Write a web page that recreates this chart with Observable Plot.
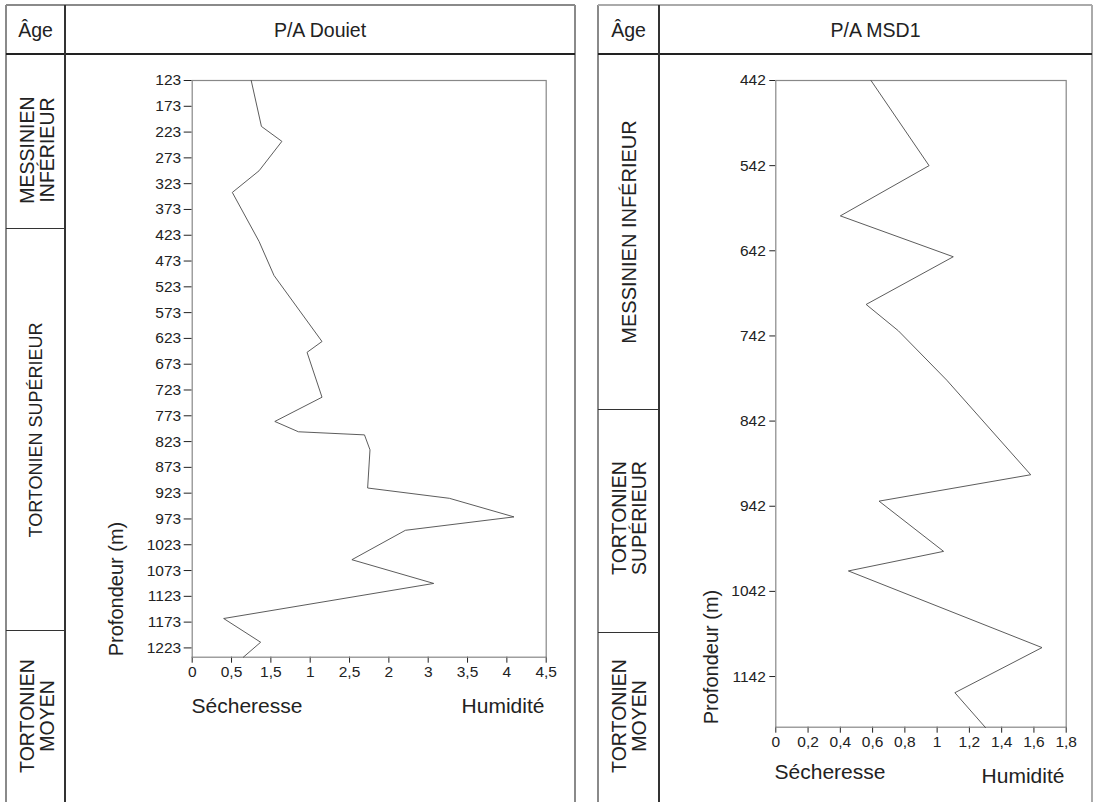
<!DOCTYPE html>
<html>
<head>
<meta charset="utf-8">
<script src="https://cdn.jsdelivr.net/npm/d3@7"></script>
<script src="https://cdn.jsdelivr.net/npm/@observablehq/plot@0.6"></script>
<style>
  body { margin: 0; background: #fff; }
  #root { position: relative; width: 1094px; height: 802px; overflow: hidden; background: #fff;
          font-family: "Liberation Sans", Arial, Helvetica, sans-serif; color: #222; }
  #root svg text { font-size: 15.5px !important; font-family: "Liberation Sans", Arial, sans-serif !important; fill: #222; }
  .ln { position: absolute; }
  .tx { position: absolute; white-space: nowrap; line-height: 1.05; text-align: center; }
</style>
</head>
<body>
<div id="root"></div>
<script>
// ---------- data ----------
const douietDepth = [123, 212, 241, 298, 340, 435, 501, 629, 650, 737, 784, 804, 810, 839, 913, 933, 969, 995, 1052, 1098, 1166, 1212, 1241];
const douietValue = [0.75, 0.88, 1.14, 0.85, 0.51, 0.85, 1.04, 1.65, 1.46, 1.65, 1.05, 1.35, 2.19, 2.26, 2.23, 3.27, 4.09, 2.71, 2.03, 3.07, 0.40, 0.87, 0.65];
const douietDepthTicks = [123, 173, 223, 273, 323, 373, 423, 473, 523, 573, 623, 673, 723, 773, 823, 873, 923, 973, 1023, 1073, 1123, 1173, 1223];
const douietValueTicks = [0, 0.5, 1, 1.5, 2, 2.5, 3, 3.5, 4, 4.5];
const douietValueLabels = ["0", "0,5", "1,5", "1", "2,5", "2", "3", "3,5", "4", "4,5"];
const douietAges = ["MESSINIEN\nINFÉRIEUR", "TORTONIEN SUPÉRIEUR", "TORTONIEN\nMOYEN"];

const msd1Depth = [442, 542, 601, 649, 705, 736, 794, 905, 936, 995, 1018, 1108, 1161, 1202];
const msd1Value = [0.59, 0.95, 0.40, 1.10, 0.56, 0.76, 1.06, 1.58, 0.64, 1.04, 0.45, 1.65, 1.11, 1.30];
const msd1DepthTicks = [442, 542, 642, 742, 842, 942, 1042, 1142];
const msd1ValueTicks = [0, 0.2, 0.4, 0.6, 0.8, 1, 1.2, 1.4, 1.6, 1.8];
const msd1ValueLabels = ["0", "0,2", "0,4", "0,6", "0,8", "1", "1,2", "1,4", "1,6", "1,8"];
const msd1Ages = ["MESSINIEN INFÉRIEUR", "TORTONIEN\nSUPÉRIEUR", "TORTONIEN\nMOYEN"];

const titles = ["P/A Douiet", "P/A MSD1"];
const ageHeader = "Âge";
const depthLabel = "Profondeur (m)";
const dryLabel = "Sécheresse";
const wetLabel = "Humidité";

// ---------- helpers ----------
const root = document.getElementById("root");
function hline(x1, x2, y, color, w) {
  const d = document.createElement("div");
  d.className = "ln";
  Object.assign(d.style, {left: x1 + "px", top: (y - w / 2) + "px", width: (x2 - x1) + "px", height: w + "px", background: color});
  root.appendChild(d);
}
function vline(x, y1, y2, color, w) {
  const d = document.createElement("div");
  d.className = "ln";
  Object.assign(d.style, {left: (x - w / 2) + "px", top: y1 + "px", width: w + "px", height: (y2 - y1) + "px", background: color});
  root.appendChild(d);
}
function text(str, cx, cy, size, rot) {
  const d = document.createElement("div");
  d.className = "tx";
  d.innerHTML = str.split("\n").join("<br>");
  Object.assign(d.style, {left: cx + "px", top: cy + "px", fontSize: size + "px",
    transform: "translate(-50%,-50%)" + (rot ? " rotate(-90deg)" : "")});
  root.appendChild(d);
}
function place(svg, left, top) {
  svg.style.position = "absolute";
  svg.style.left = left + "px";
  svg.style.top = top + "px";
  root.appendChild(svg);
}

// ---------- frames ----------
vline(6, 5, 802, "#8a8a8a", 1.3);
vline(575, 5, 802, "#8a8a8a", 1.3);
hline(6, 575, 5, "#8a8a8a", 1.3);
hline(6, 575, 54, "#222", 1.2);
vline(65, 5, 802, "#333", 1.2);
hline(6, 65, 228, "#333", 1);
hline(6, 65, 630, "#333", 1);
vline(598, 5, 802, "#8a8a8a", 1.3);
vline(1092, 5, 802, "#aaa", 2.2);
hline(598, 1092, 5, "#aaa", 1.5);
hline(598, 1092, 54, "#222", 1.2);
vline(659, 5, 802, "#333", 1.2);
hline(598, 659, 409, "#333", 1);
hline(598, 659, 632, "#333", 1);

// ---------- header texts ----------
text(ageHeader, 35.5, 30, 19.5);
text(titles[0], 320, 30, 19.5);
text(ageHeader, 628.5, 30, 19.5);
text(titles[1], 875.5, 30, 19.5);

text(douietAges[0], 37, 150, 19.5, true);
text(douietAges[1], 36, 430, 18, true);
text(douietAges[2], 37, 716, 19.5, true);
text(msd1Ages[0], 628.5, 232, 20, true);
text(msd1Ages[1], 629, 518, 19.5, true);
text(msd1Ages[2], 629, 716, 19.5, true);

text(depthLabel, 116, 589, 20, true);
text(depthLabel, 711, 657, 20, true);
text(dryLabel, 247, 706, 21);
text(wetLabel, 503, 706, 21);
text(dryLabel, 830, 772, 21);
text(wetLabel, 1023, 776, 21);

// ---------- plots ----------
const douiet = douietDepth.map((d, i) => ({depth: d, value: douietValue[i]}));
const msd1 = msd1Depth.map((d, i) => ({depth: d, value: msd1Value[i]}));
const dLab = new Map(douietValueTicks.map((t, i) => [t, douietValueLabels[i]]));
const mLab = new Map(msd1ValueTicks.map((t, i) => [t, msd1ValueLabels[i]]));

const common = {fontFamily: "'Liberation Sans', Arial, sans-serif", fontSize: "15.5px", color: "#222", background: "transparent", overflow: "visible"};

const leftPlot = Plot.plot({
  width: 470, height: 640,
  marginLeft: 91.7, marginRight: 24.3, marginTop: 20, marginBottom: 43.3,
  style: common,
  x: {domain: [0, 4.5], ticks: douietValueTicks, tickFormat: d => dLab.get(d), tickSize: 6, tickPadding: 3, label: null},
  y: {domain: [123, 1241], reverse: true, ticks: douietDepthTicks, tickFormat: d => String(d), tickSize: 8, tickPadding: 3, label: null},
  marks: [
    Plot.frame({stroke: "#888", strokeWidth: 1.2}),
    Plot.line(douiet, {x: "value", y: "depth", stroke: "#4a4a4a", strokeWidth: 0.9})
  ]
});
place(leftPlot, 100, 60);

const rightPlot = Plot.plot({
  width: 414, height: 700,
  marginLeft: 95.3, marginRight: 28.3, marginTop: 20, marginBottom: 33.3,
  style: common,
  x: {domain: [0, 1.8], ticks: msd1ValueTicks, tickFormat: d => mLab.get(d), tickSize: 6, tickPadding: 3, label: null},
  y: {domain: [442, 1201.5], reverse: true, ticks: msd1DepthTicks, tickFormat: d => String(d), tickSize: 6, tickPadding: 4, label: null},
  marks: [
    Plot.frame({stroke: "#888", strokeWidth: 1.2}),
    Plot.line(msd1, {x: "value", y: "depth", stroke: "#4a4a4a", strokeWidth: 0.9})
  ]
});
place(rightPlot, 680, 60);
</script>
</body>
</html>
